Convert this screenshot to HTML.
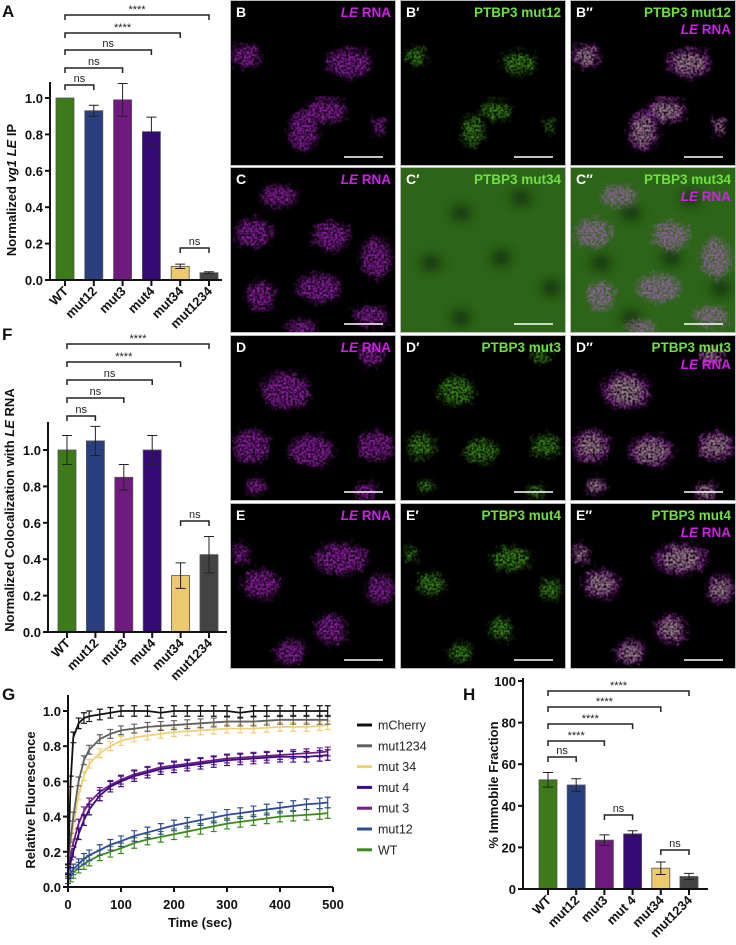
<!DOCTYPE html>
<html><head><meta charset="utf-8">
<style>
html,body{margin:0;padding:0;background:#fff;}
svg{display:block;font-family:"Liberation Sans",Arial,sans-serif;}
.tk{font-size:13px;font-weight:bold;fill:#111;}
.pl{font-size:17px;font-weight:bold;fill:#111;}
.sig{font-size:11px;fill:#222;}
</style></head>
<body>
<svg id="fig" width="736" height="945" viewBox="0 0 736 945" xmlns="http://www.w3.org/2000/svg">
<defs>
<filter id="bl" x="-50%" y="-50%" width="200%" height="200%">
  <feGaussianBlur in="SourceGraphic" stdDeviation="3" result="b"/>
  <feTurbulence type="fractalNoise" baseFrequency="0.18" numOctaves="2" seed="3" result="n"/>
  <feDisplacementMap in="b" in2="n" scale="14" xChannelSelector="R" yChannelSelector="G" result="d"/>
  <feTurbulence type="fractalNoise" baseFrequency="0.45" numOctaves="1" seed="7" result="n2"/>
  <feColorMatrix in="n2" type="matrix" values="0 0 0 0 0  0 0 0 0 0  0 0 0 0 0  0 0 0 2.2 -0.5" result="na"/>
  <feComposite in="d" in2="na" operator="in"/>
</filter>
<filter id="bl2" x="-50%" y="-50%" width="200%" height="200%"><feGaussianBlur stdDeviation="5"/></filter>
<clipPath id="cp"><rect x="0" y="0" width="164" height="164"/></clipPath>
</defs>
<g id="micro"></g>
<g id="chartA"></g>
<g id="chartF"></g>
<g id="chartG"></g>
<g id="chartH"></g>
</svg>
<script>
// ---------- data ----------
var barCats = ["WT","mut12","mut3","mut4","mut34","mut1234"];
var hCats = ["WT","mut12","mut3","mut 4","mut34","mut1234"];
var barColors = ["#3d7a1a","#2a3f7e","#6e1a7e","#360a74","#ecc96a","#444444"];
var aValues = [1.0,0.93,0.99,0.815,0.075,0.04];
var aErrors = [0,0.03,0.09,0.08,0.012,0.005];
var aTicks = ["0.0","0.2","0.4","0.6","0.8","1.0"];
var fValues = [1.0,1.05,0.85,1.0,0.31,0.425];
var fErrors = [0.08,0.08,0.07,0.08,0.07,0.1];
var hValues = [52.5,50,23.5,26.5,10,6];
var hErrors = [3.5,3,2.5,1.5,3,1.5];
var hTicks = ["0","20","40","60","80","100"];
var gTicks = ["0.0","0.2","0.4","0.6","0.8","1.0"];
var gXTicks = ["0","100","200","300","400","500"];
var gTimes = [0,5,10,20,30,40,60,80,100,125,150,175,200,225,250,275,300,325,350,375,400,425,450,475,490];
var gNames = ["mCherry","mut1234","mut 34","mut 4","mut 3","mut12","WT"];
var gColors = ["#111111","#606060","#f0cf78","#3a0c82","#741c88","#2f4c94","#3f8a1c"];
var gMCherry = [0.10,0.60,0.85,0.93,0.96,0.97,0.98,0.99,1.00,1.00,1.00,0.99,1.00,1.00,1.00,1.00,1.00,0.99,1.00,1.00,1.00,1.00,1.00,1.00,1.00];
var gMut1234 = [0.15,0.28,0.40,0.60,0.72,0.78,0.84,0.87,0.89,0.90,0.91,0.915,0.92,0.925,0.93,0.935,0.94,0.94,0.94,0.945,0.95,0.95,0.95,0.95,0.95];
var gMut34 = [0.15,0.25,0.35,0.52,0.63,0.70,0.76,0.80,0.83,0.85,0.86,0.87,0.88,0.885,0.89,0.895,0.90,0.90,0.90,0.905,0.91,0.91,0.91,0.915,0.92];
var gMut4 = [0.08,0.14,0.20,0.30,0.38,0.44,0.52,0.57,0.60,0.63,0.65,0.67,0.68,0.69,0.70,0.71,0.72,0.725,0.73,0.735,0.74,0.74,0.74,0.745,0.75];
var gMut3 = [0.10,0.18,0.25,0.36,0.43,0.48,0.54,0.58,0.61,0.64,0.66,0.68,0.69,0.70,0.71,0.72,0.73,0.735,0.74,0.745,0.75,0.755,0.76,0.765,0.77];
var gMut12 = [0.05,0.08,0.10,0.13,0.16,0.18,0.21,0.24,0.26,0.29,0.31,0.33,0.35,0.365,0.38,0.395,0.41,0.42,0.43,0.44,0.45,0.46,0.47,0.475,0.48];
var gWT = [0.03,0.06,0.08,0.11,0.13,0.15,0.18,0.20,0.22,0.25,0.27,0.285,0.30,0.315,0.33,0.345,0.36,0.37,0.38,0.39,0.40,0.405,0.41,0.415,0.42];
var gErr = [0.03,0.025,0.025,0.03,0.025,0.03,0.03];

var NS="http://www.w3.org/2000/svg";
function mk(parent,tag,attrs,text){var e=document.createElementNS(NS,tag);for(var k in attrs)e.setAttribute(k,attrs[k]);if(text!==undefined)e.textContent=text;parent.appendChild(e);return e;}

// ---------- generic bar chart ----------
function barChart(g,o){
  var y=function(v){return o.y0-(v-o.vmin)/(o.vmax-o.vmin)*(o.y0-o.y1);};
  var x=function(i){return o.x0+o.step*i;};
  for(var i=0;i<o.vals.length;i++){
    var r=mk(g,"rect",{x:x(i)-9,y:y(o.vals[i]),width:18,height:o.y0-y(o.vals[i]),fill:barColors[i],stroke:"#555","stroke-width":0.8});
    
    
    if(o.errs[i]>0){
      var e=mk(g,"path",{d:"M"+x(i)+" "+y(o.vals[i]-o.errs[i])+"V"+y(o.vals[i]+o.errs[i])+"M"+(x(i)-5)+" "+y(o.vals[i]+o.errs[i])+"h10M"+(x(i)-5)+" "+y(o.vals[i]-o.errs[i])+"h10",stroke:"#222","stroke-width":1,fill:"none"});
      
      
    }
  }
  var ax=mk(g,"path",{d:"M"+o.ax+" "+o.atop+"V"+o.y0+"H"+o.axEnd,stroke:"#111","stroke-width":2,fill:"none"});
  
  
  for(var t=0;t<o.ticks.length;t++){
    var tv=o.vmin+(o.vmax-o.vmin)*t/(o.ticks.length-1);
    mk(g,"line",{x1:o.ax-5,x2:o.ax,y1:y(tv),y2:y(tv),stroke:"#111","stroke-width":2});
    var tl=mk(g,"text",{x:o.ax-7,y:y(tv)+5,"text-anchor":"end",class:"tk"},o.ticks[t]);
    
    
  }
  for(i=0;i<o.cats.length;i++){
    mk(g,"line",{x1:x(i),x2:x(i),y1:o.y0,y2:o.y0+6,stroke:"#111","stroke-width":2});
    var xl=mk(g,"text",{x:x(i)+4,y:o.y0+12,"text-anchor":"end",class:"tk",transform:"rotate(-45 "+(x(i)+4)+" "+(o.y0+12)+")"},o.cats[i]);
    
    
  }
  o.br.forEach(function(b){
    var x1=x(b[0]),x2=x(b[1]),yy=b[2];
    var p=mk(g,"path",{d:"M"+x1+" "+(yy+5)+"V"+yy+"H"+x2+"V"+(yy+5),stroke:"#222","stroke-width":1.5,fill:"none"});
    
    
    var s=mk(g,"text",{x:(x1+x2)/2,y:b[3]=="ns"?yy-3:yy-2,"text-anchor":"middle",class:"sig","font-size":b[3]=="ns"?"12px":"11px"},b[3]);
    
    
  });
}

// Panel A
var gA=document.getElementById("chartA");
mk(gA,"text",{x:2,y:17,class:"pl"},"A");
barChart(gA,{x0:65,step:28.8,y0:280,y1:98,vmin:0,vmax:1,vals:aValues,errs:aErrors,cats:barCats,ticks:aTicks,ax:50,atop:82,axEnd:222,
  br:[[0,5,15,"****"],[0,4,33,"****"],[0,3,50,"ns"],[0,2,68,"ns"],[0,1,85,"ns"],[4,5,248,"ns"]]});
var ya=mk(gA,"text",{x:16,y:190,"text-anchor":"middle",class:"tk","font-size":"14px",transform:"rotate(-90 16 190)"});


ya.innerHTML='Normalized <tspan font-style="italic">vg1 LE</tspan> IP';

// Panel F
var gF=document.getElementById("chartF");
mk(gF,"text",{x:2,y:340,class:"pl"},"F");
barChart(gF,{x0:67,step:28.4,y0:632,y1:450,vmin:0,vmax:1,vals:fValues,errs:fErrors,cats:barCats,ticks:aTicks,ax:48,atop:422,axEnd:227,
  br:[[0,5,344,"****"],[0,4,362,"****"],[0,3,380,"ns"],[0,2,398,"ns"],[0,1,416,"ns"],[4,5,521,"ns"]]});
var yf=mk(gF,"text",{x:14,y:510,"text-anchor":"middle",class:"tk","font-size":"14px",transform:"rotate(-90 14 510)"});


yf.innerHTML='Normalized Colocalization with <tspan font-style="italic">LE</tspan> RNA';

// Panel H
var gH=document.getElementById("chartH");
mk(gH,"text",{x:463,y:700,class:"pl"},"H");
barChart(gH,{x0:548,step:28.2,y0:889,y1:681,vmin:0,vmax:100,vals:hValues,errs:hErrors,cats:hCats,ticks:hTicks,ax:523,atop:678,axEnd:708,
  br:[[0,5,691,"****"],[0,4,707,"****"],[0,3,724,"****"],[0,2,741,"****"],[0,1,757,"ns"],[2,3,815,"ns"],[4,5,850,"ns"]]});
var yh=mk(gH,"text",{x:498,y:785,"text-anchor":"middle",class:"tk","font-size":"14px","font-weight":"normal",transform:"rotate(-90 498 785)"},"% Immobile Fraction");



// Panel G
(function(){
  var g=document.getElementById("chartG");
  mk(g,"text",{x:2,y:700,class:"pl"},"G");
  var X=function(t){return 68+t/500*265;};
  var Y=function(v){return 887-v*176;};
  var series=[gMCherry,gMut1234,gMut34,gMut4,gMut3,gMut12,gWT];
  for(var s=series.length-1;s>=0;s--){
    var d="";
    for(var i=0;i<gTimes.length;i++){
      var xx=X(gTimes[i]),v=series[s][i],e=gErr[s];
      d+="M"+xx+" "+Y(v-e)+"V"+Y(v+e)+"M"+(xx-3)+" "+Y(v+e)+"h6M"+(xx-3)+" "+Y(v-e)+"h6";
    }
    var eb=mk(g,"path",{d:d,stroke:gColors[s],"stroke-width":1.2,fill:"none"});
    
    
    var pts=gTimes.map(function(t,i){return X(t)+","+Y(series[s][i]);}).join(" ");
    var ln=mk(g,"polyline",{points:pts,stroke:gColors[s],"stroke-width":1.8,fill:"none"});
    
    
  }
  var ax=mk(g,"path",{d:"M68 695V887H333",stroke:"#111","stroke-width":2,fill:"none"});
  
  
  for(var t=0;t<gTicks.length;t++){
    var v=parseFloat(gTicks[t]);
    mk(g,"line",{x1:63,x2:68,y1:Y(v),y2:Y(v),stroke:"#111","stroke-width":2});
    var tl=mk(g,"text",{x:61,y:Y(v)+5,"text-anchor":"end",class:"tk"},gTicks[t]);
    
    
  }
  for(t=0;t<gXTicks.length;t++){
    var xv=parseFloat(gXTicks[t]);
    mk(g,"line",{x1:X(xv),x2:X(xv),y1:887,y2:892,stroke:"#111","stroke-width":2});
    var xl=mk(g,"text",{x:X(xv),y:909,"text-anchor":"middle",class:"tk"},gXTicks[t]);
    
    
  }
  var xt=mk(g,"text",{x:200,y:927,"text-anchor":"middle",class:"tk"},"Time (sec)");
  
  
  var yt=mk(g,"text",{x:35,y:800,"text-anchor":"middle",class:"tk","font-size":"14px",transform:"rotate(-90 35 800)"},"Relative Fluorescence");
  
  
  for(var k=0;k<gNames.length;k++){
    var yy=725+k*20.8;
    var le=mk(g,"g",{});
    
    
    mk(le,"line",{x1:357,x2:372,y1:yy,y2:yy,stroke:gColors[k],"stroke-width":3});
    mk(le,"text",{x:378,y:yy+4.5,"font-size":"12.5px",fill:"#222"},gNames[k]);
  }
})();

// ---------- microscopy panels ----------
(function(){
  var m=document.getElementById("micro");
  var cols=[231,401,571], rows=[1,168,336,504];
  var blobs=[
    [[15,55,14,12],[118,62,22,14],[95,110,20,12],[72,130,14,20],[148,125,6,8]],
    [[22,65,18,14],[48,28,18,11],[100,68,18,14],[145,90,15,20],[30,128,14,14],[88,120,22,14],[140,148,18,10],[70,160,15,8]],
    [[55,55,24,18],[20,110,18,16],[80,115,22,15],[145,110,18,14],[140,20,12,10],[25,150,10,8],[135,155,12,8]],
    [[30,80,18,14],[110,55,26,15],[150,85,14,14],[100,125,15,15],[60,148,15,12],[10,50,8,10]]
  ];
  var rowLabels=["B","C","D","E"], muts=["mut12","mut34","mut3","mut4"];
  for(var r=0;r<4;r++){
    for(var c=0;c<3;c++){
      var g=mk(m,"g",{transform:"translate("+cols[c]+","+rows[r]+")"});
      
      
      mk(g,"rect",{x:-1,y:-1,width:166,height:166,fill:"#bbb"});
      mk(g,"rect",{x:0,y:0,width:164,height:164,fill:"#000"});
      var cl=mk(g,"g",{"clip-path":"url(#cp)"});
      if(r==1&&c>0){
        mk(cl,"rect",{x:0,y:0,width:164,height:164,fill:"#2c6418"});
        [[60,45],[120,30],[30,95],[100,90],[150,120],[60,150]].forEach(function(p){mk(cl,"ellipse",{cx:p[0],cy:p[1],rx:10,ry:8,fill:"#16380c",filter:"url(#bl2)"});});
      }
      blobs[r].forEach(function(b){
        if(c==0||c==2) mk(cl,"ellipse",{cx:b[0],cy:b[1],rx:b[2],ry:b[3],fill:c==2&&r==1?"#a060b0":"#a020b8",opacity:0.85,filter:"url(#bl)"});
        if((c==1||c==2)&&r!=1) mk(cl,"ellipse",{cx:b[0],cy:b[1],rx:b[2]*0.75,ry:b[3]*0.75,fill:c==2?"#a0e070":"#4cb020",opacity:c==2?0.5:0.75,filter:"url(#bl)"});
      });
      mk(g,"line",{x1:113,x2:152,y1:156,y2:156,stroke:"#fff","stroke-width":1.5});
      var lbl=rowLabels[r]+(c==1?"\u2032":c==2?"\u2033":"");
      mk(g,"text",{x:5,y:16,fill:"#fff","font-size":"14px","font-weight":"bold"},lbl);
      if(c==0){
        var t=mk(g,"text",{x:160,y:16,"text-anchor":"end","font-size":"13.5px","font-weight":"bold",fill:"#d020e8"});
        t.innerHTML='<tspan font-style="italic">LE</tspan> RNA';
      } else {
        mk(g,"text",{x:160,y:16,"text-anchor":"end","font-size":"13.5px","font-weight":"bold",fill:"#70e040"},"PTBP3 "+muts[r]);
        if(c==2){
          var t2=mk(g,"text",{x:160,y:33,"text-anchor":"end","font-size":"13.5px","font-weight":"bold",fill:"#d020e8"});
          t2.innerHTML='<tspan font-style="italic">LE</tspan> RNA';
        }
      }
    }
  }
})();
</script>
</body></html>
